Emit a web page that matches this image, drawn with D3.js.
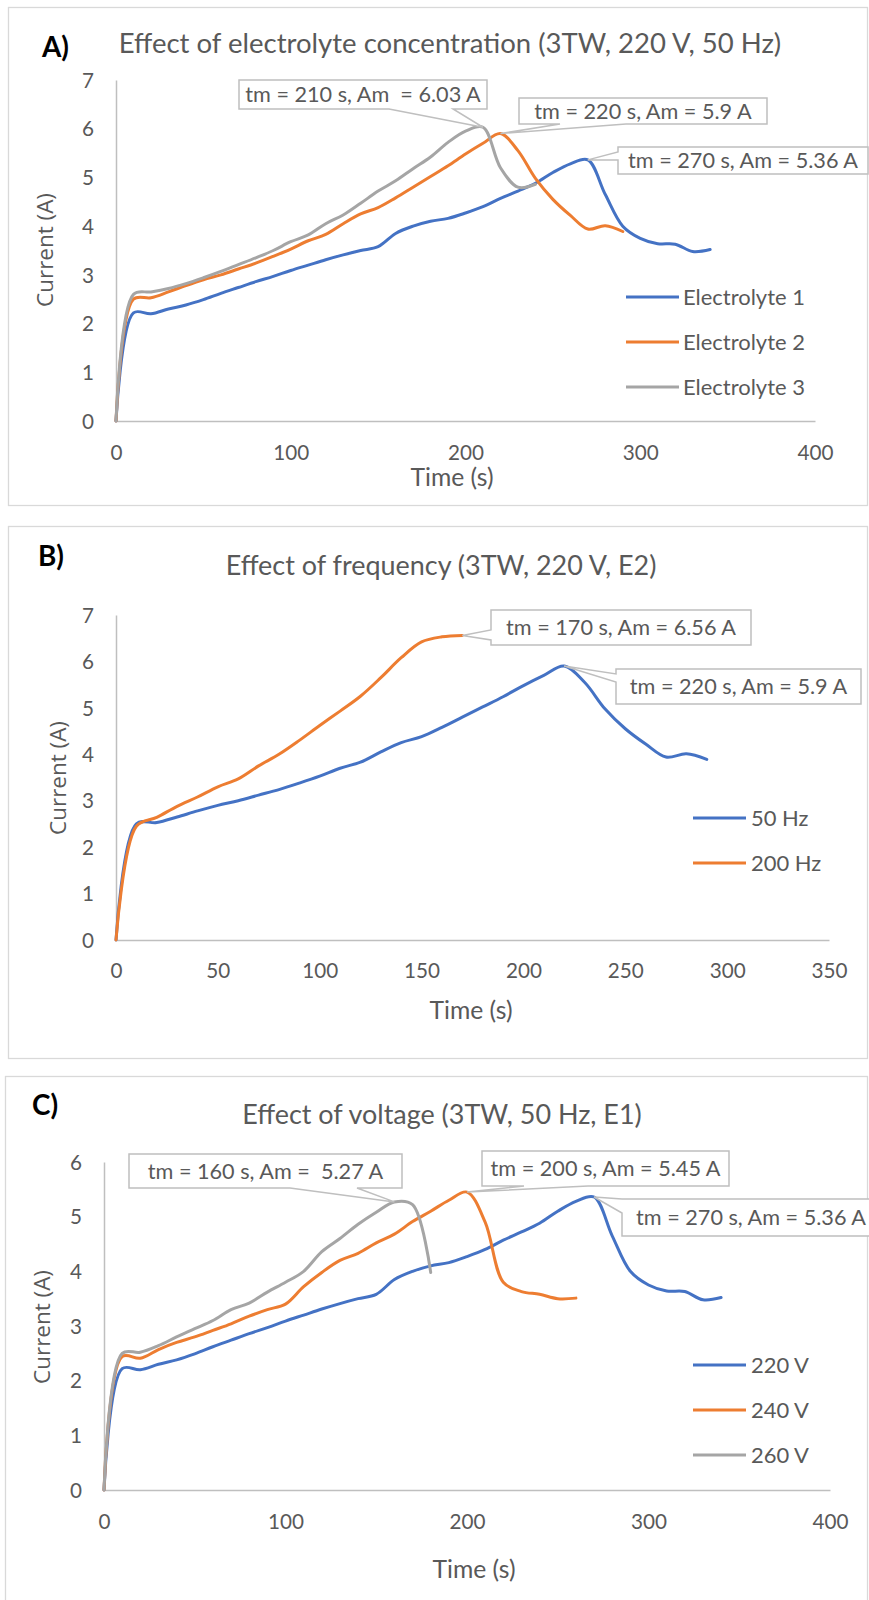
<!DOCTYPE html>
<html><head><meta charset="utf-8">
<script src="https://cdn.jsdelivr.net/npm/d3@7"></script>
<style>body{margin:0;background:#fff}svg{display:block}</style>
</head><body>
<svg id="c" width="869" height="1600"></svg>
<script>
// ---------- DATA ----------
const e1Time = [0,10,20,30,40,50,60,70,80,90,100,110,120,130,140,150,160,170,180,190,200,210,220,230,240,250,260,270,280,290,300,310,320,330,340];
const e1Current = [0,2.22,2.2,2.3,2.38,2.49,2.62,2.74,2.86,2.97,3.09,3.2,3.31,3.41,3.5,3.58,3.85,4.0,4.1,4.16,4.27,4.4,4.57,4.72,4.88,5.1,5.28,5.36,4.65,4.0,3.75,3.64,3.63,3.48,3.52];
const e2Time = [0,10,20,30,40,50,60,70,80,90,100,110,120,130,140,150,160,170,180,190,200,210,220,230,240,250,260,270,280,290];
const e2Current = [0,2.5,2.53,2.65,2.78,2.9,3.0,3.12,3.24,3.38,3.53,3.7,3.83,4.05,4.25,4.38,4.58,4.8,5.02,5.24,5.48,5.7,5.9,5.55,4.98,4.55,4.22,3.94,4.01,3.89];
const e3Time = [0,10,20,30,40,50,60,70,80,90,100,110,120,130,140,150,160,170,180,190,200,210,220,230,240];
const e3Current = [0,2.6,2.65,2.72,2.82,2.94,3.07,3.21,3.35,3.5,3.68,3.82,4.05,4.23,4.47,4.72,4.93,5.18,5.42,5.72,5.95,6.03,5.2,4.8,4.86];
const hz200Time = [0,10,20,30,40,50,60,70,80,90,100,110,120,130,140,150,160,170];
const hz200Current = [0,2.45,2.64,2.88,3.08,3.3,3.47,3.75,4.0,4.3,4.62,4.93,5.25,5.65,6.08,6.42,6.53,6.56];
const v240Time = [0,10,20,30,40,50,60,70,80,90,100,110,120,130,140,150,160,170,180,190,200,210,220,230,240,250,260];
const v240Current = [0,2.44,2.41,2.57,2.7,2.8,2.92,3.04,3.18,3.3,3.4,3.72,3.98,4.2,4.33,4.52,4.68,4.91,5.1,5.3,5.45,4.9,3.8,3.63,3.58,3.5,3.51];
const v260Time = [0,10,20,30,40,50,60,70,80,90,100,110,120,130,140,150,160,170,180];
const v260Current = [0,2.5,2.52,2.64,2.8,2.95,3.1,3.3,3.42,3.62,3.8,4.0,4.36,4.6,4.86,5.08,5.27,5.22,3.98];

const xTicksA = [0,100,200,300,400];
const yTicksA = [0,1,2,3,4,5,6,7];
const xTicksB = [0,50,100,150,200,250,300,350];
const yTicksB = [0,1,2,3,4,5,6,7];
const xTicksC = [0,100,200,300,400];
const yTicksC = [0,1,2,3,4,5,6];

const namesA = ["Electrolyte 1","Electrolyte 2","Electrolyte 3"];
const namesB = ["50 Hz","200 Hz"];
const namesC = ["220 V","240 V","260 V"];
const titles = ["Effect of electrolyte concentration (3TW, 220 V, 50 Hz)","Effect of frequency (3TW, 220 V, E2)","Effect of voltage (3TW, 50 Hz, E1)"];
const letters = ["A)","B)","C)"];
const calloutsA = [["tm = 210 s, Am  = 6.03 A",210,6.03],["tm = 220 s, Am = 5.9 A",220,5.9],["tm = 270 s, Am = 5.36 A",270,5.36]];
const calloutsB = [["tm = 170 s, Am = 6.56 A",170,6.56],["tm = 220 s, Am = 5.9 A",220,5.9]];
const calloutsC = [["tm = 160 s, Am =  5.27 A",160,5.27],["tm = 200 s, Am = 5.45 A",200,5.45],["tm = 270 s, Am = 5.36 A",270,5.36]];

// ---------- STYLE ----------
const BLUE="#4472C4", ORANGE="#ED7D31", GRAY="#A5A5A5";
const TXT="#595959", AXIS="#bfbfbf", BORDER="#d9d9d9", CALL="#bfbfbf";
const FONT="Lato, 'Open Sans', sans-serif";
const FONT2="'Open Sans', sans-serif";

const svg = d3.select("#c");
function fitSize(str, target, family, weight){
  const t = svg.append("text").attr("font-family",family||FONT).attr("font-weight",weight||400)
    .attr("font-size",100).style("white-space","pre").text(str);
  const w = t.node().getComputedTextLength(); t.remove();
  return 100*target/w;
}
const titleSizeA = fitSize(titles[0], 663);
const titleSize = fitSize(titles[1], 431);
const callSize = fitSize("tm = 270 s, Am = 5.36 A", 230);
const tickSize = fitSize("400", 36);
const legendSize = fitSize("Electrolyte 1", 122);
const axTitleSize = fitSize("Time (s)", 83);
const yTitleSize = fitSize("Current (A)", 114, FONT2);
const letterSize = fitSize("A)", 27, FONT, 700);

const panels = [
  { border:[8,7,867,505], letter:[42,57], title:[450,53], tSize:titleSizeA,
    xr:[116,815], xd:[0,400], xt:xTicksA, yr:[421,80], yd:[0,7], yt:yTicksA,
    xLabY:453, yLabX:94, xTitle:[452,477], yTitle:[45,250],
    leg:{x0:626,x1:679,lx:683,ys:[297,342,387]},
    series:[[e1Time,e1Current,BLUE,namesA[0]],[e2Time,e2Current,ORANGE,namesA[1]],[e3Time,e3Current,GRAY,namesA[2]]],
    callouts:[
      {c:calloutsA[0], box:[239,80,487,109], side:"bottom", base:[389,453]},
      {c:calloutsA[1], box:[519,98,767,124], side:"bottom", base:[560,626]},
      {c:calloutsA[2], box:[618,147,868,174], side:"left", base:[152,160]}]},
  { border:[8,526,867,1058], letter:[38,566], title:[441,575], tSize:titleSize,
    xr:[116,829], xd:[0,350], xt:xTicksB, yr:[940,615], yd:[0,7], yt:yTicksB,
    xLabY:971, yLabX:94, xTitle:[471,1010], yTitle:[58,778],
    leg:{x0:693,x1:746,lx:751,ys:[818,863]},
    series:[[e2Time,e2Current,BLUE,namesB[0]],[hz200Time,hz200Current,ORANGE,namesB[1]]],
    callouts:[
      {c:calloutsB[0], box:[491,610,751,645], side:"left", base:[630,640]},
      {c:calloutsB[1], box:[616,669,861,704], side:"left", base:[674,682]}]},
  { border:[5,1076,867,1620], letter:[32,1115], title:[442,1124], tSize:titleSize,
    xr:[104,830], xd:[0,400], xt:xTicksC, yr:[1490,1162], yd:[0,6], yt:yTicksC,
    xLabY:1522, yLabX:82, xTitle:[474,1569], yTitle:[42,1327],
    leg:{x0:693,x1:746,lx:751,ys:[1365,1410,1455]},
    series:[[e1Time,e1Current,BLUE,namesC[0]],[v240Time,v240Current,ORANGE,namesC[1]],[v260Time,v260Current,GRAY,namesC[2]]],
    callouts:[
      {c:calloutsC[0], box:[129,1154,402,1188], side:"bottom", base:[290,357]},
      {c:calloutsC[1], box:[482,1151,729,1186], side:"bottom", base:[524,588]},
      {c:calloutsC[2], box:[622,1199,880,1236], side:"left", base:[1199,1213]}]}
];

panels.forEach((p,i)=>{
  const g = svg.append("g");
  const b = p.border;
  g.append("rect").attr("x",b[0]+0.5).attr("y",b[1]+0.5).attr("width",b[2]-b[0]).attr("height",b[3]-b[1])
    .attr("fill","#fff").attr("stroke",BORDER).attr("stroke-width",1.3);
  g.append("text").attr("x",p.letter[0]).attr("y",p.letter[1]).attr("font-family",FONT).attr("font-weight",700)
    .attr("font-size",letterSize).attr("fill","#000").text(letters[i]);
  g.append("text").attr("x",p.title[0]).attr("y",p.title[1]).attr("text-anchor","middle").attr("font-family",FONT)
    .attr("font-size",p.tSize).attr("fill",TXT).text(titles[i]);

  const x = d3.scaleLinear().domain(p.xd).range(p.xr);
  const y = d3.scaleLinear().domain(p.yd).range(p.yr);

  // axes
  const xa = g.append("g").attr("transform",`translate(0,${p.yr[0]})`)
    .call(d3.axisBottom(x).tickValues(p.xt).tickSize(0).tickPadding(0).tickFormat(d3.format("d")));
  xa.select(".domain").attr("stroke",AXIS).attr("stroke-width",1.5);
  xa.selectAll("text").attr("y",p.xLabY-p.yr[0]).attr("dy","0.35em").attr("font-family",FONT)
    .attr("font-size",tickSize).attr("fill",TXT);
  const ya = g.append("g").attr("transform",`translate(${p.xr[0]},0)`)
    .call(d3.axisLeft(y).tickValues(p.yt).tickSize(0).tickPadding(0).tickFormat(d3.format("d")));
  ya.select(".domain").attr("stroke",AXIS).attr("stroke-width",1.5);
  ya.selectAll("text").attr("x",p.yLabX-p.xr[0]).attr("dy","0.35em").attr("font-family",FONT)
    .attr("font-size",tickSize).attr("fill",TXT);

  g.append("text").attr("x",p.xTitle[0]).attr("y",p.xTitle[1]).attr("dy","0.35em").attr("text-anchor","middle")
    .attr("font-family",FONT).attr("font-size",axTitleSize).attr("fill",TXT).text("Time (s)");
  g.append("text").attr("transform",`translate(${p.yTitle[0]},${p.yTitle[1]}) rotate(-90)`).attr("dy","0.35em")
    .attr("text-anchor","middle").attr("font-family",FONT2).attr("font-size",yTitleSize).attr("fill",TXT).text("Current (A)");

  // lines
  const line = d3.line().x(d=>x(d[0])).y(d=>y(d[1])).curve(d3.curveCatmullRom.alpha(0.5));
  p.series.forEach(s=>{
    const pts = s[0].map((t,k)=>[t,s[1][k]]);
    g.append("path").datum(pts).attr("d",line).attr("fill","none").attr("stroke",s[2])
      .attr("stroke-width",3).attr("stroke-linejoin","round").attr("stroke-linecap","round");
  });

  // legend
  p.series.forEach((s,k)=>{
    const yy = p.leg.ys[k];
    g.append("line").attr("x1",p.leg.x0).attr("x2",p.leg.x1).attr("y1",yy).attr("y2",yy)
      .attr("stroke",s[2]).attr("stroke-width",3);
    g.append("text").attr("x",p.leg.lx).attr("y",yy).attr("dy","0.35em").attr("font-family",FONT)
      .attr("font-size",legendSize).attr("fill",TXT).text(s[3]);
  });

  // callouts
  p.callouts.forEach(c=>{
    const [x0,y0,x1,y1] = c.box;
    const tx = x(c.c[1]), ty = y(c.c[2]);
    let d;
    if (c.side==="bottom") d = `M${x0},${y0}H${x1}V${y1}H${c.base[1]}L${tx},${ty}L${c.base[0]},${y1}H${x0}Z`;
    else d = `M${x0},${y0}H${x1}V${y1}H${x0}V${c.base[1]}L${tx},${ty}L${x0},${c.base[0]}Z`;
    g.append("path").attr("d",d).attr("fill","#fff").attr("stroke",CALL).attr("stroke-width",1.5)
      .attr("stroke-linejoin","miter");
    g.append("text").attr("x",(x0+x1)/2).attr("y",(y0+y1)/2).attr("dy","0.35em").attr("text-anchor","middle")
      .style("white-space","pre").attr("font-family",FONT).attr("font-size",callSize).attr("fill",TXT).text(c.c[0]);
  });
});
</script>
</body></html>
